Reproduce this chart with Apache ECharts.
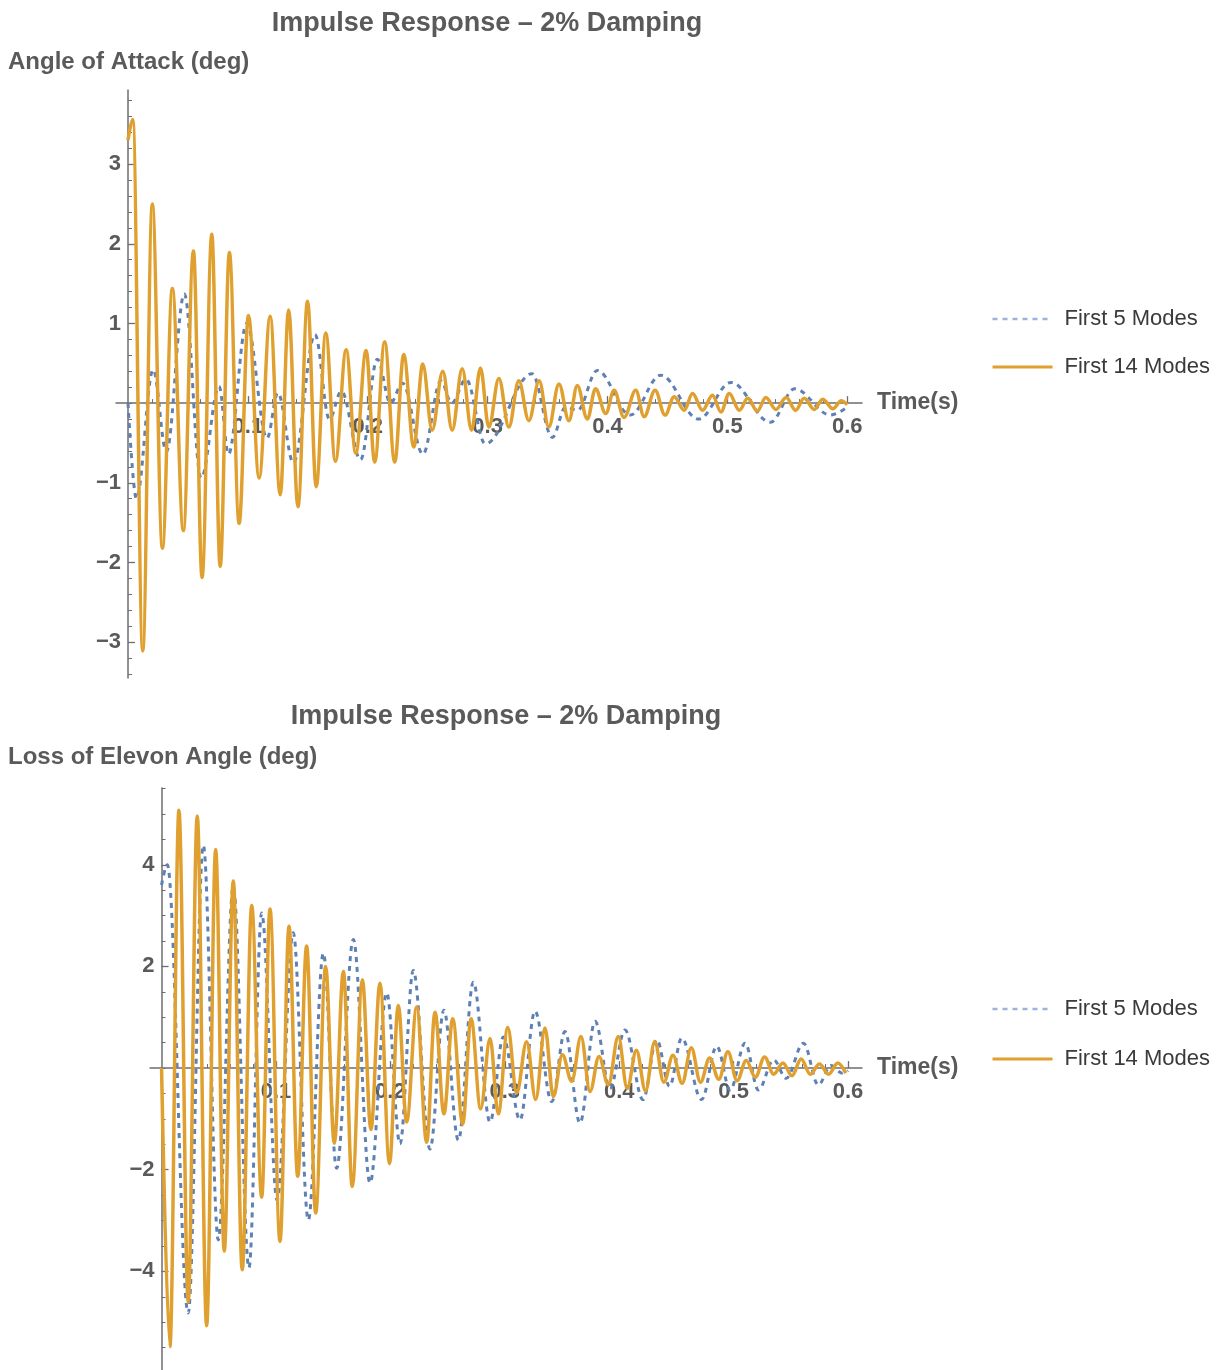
<!DOCTYPE html>
<html><head><meta charset="utf-8">
<script src="https://cdn.jsdelivr.net/npm/echarts@6/dist/echarts.min.js"></script>
<style>html,body{margin:0;padding:0;background:#fff}#c{width:1217px;height:1370px}</style>
</head><body><div id="c"></div>
<script>
// ---------- data ----------
const seriesNames = ['First 5 Modes', 'First 14 Modes'];
const chartTitles = ['Impulse Response \u2013 2% Damping', 'Impulse Response \u2013 2% Damping'];
const yAxisNames = ['Angle of Attack (deg)', 'Loss of Elevon Angle (deg)'];
const xAxisName = 'Time(s)';
const xMajorTicks = [0.1, 0.2, 0.3, 0.4, 0.5, 0.6];
const yMajorTicksTop = [-3, -2, -1, 1, 2, 3];
const yMajorTicksBottom = [-4, -2, 2, 4];

// Angle of attack, first 5 modes (time s, deg)
const aoa5 = [[0,0.0],[0.007,-1.2],[0.021,0.42],[0.032,-0.61],[0.047,1.37],[0.061,-0.94],[0.076,0.21],[0.0838,-0.64],
[0.099,1.0],[0.116,-0.44],[0.125,0.13],[0.138,-0.75],[0.156,0.86],[0.168,-0.2],[0.178,0.15],[0.194,-0.71],
[0.208,0.55],[0.219,0.0],[0.229,0.25],[0.246,-0.64],[0.261,0.28],[0.27,0.0],[0.282,0.30],[0.298,-0.51],
[0.337,0.37],[0.354,-0.43],[0.365,-0.05],[0.375,-0.09],[0.3915,0.41],[0.419,-0.15],[0.4444,0.35],[0.476,-0.2],
[0.503,0.26],[0.536,-0.24],[0.556,0.18],[0.586,-0.15],[0.6,-0.05]];

// Angle of attack, first 14 modes
const aoa14 = [[0,3.3],[0.004,3.56],[0.0123,-3.11],[0.0203,2.50],[0.0287,-1.82],[0.037,1.44],[0.0462,-1.60],[0.0546,1.91],
[0.0618,-2.19],[0.0699,2.12],[0.0769,-2.05],[0.0846,1.89],[0.0927,-1.51],[0.1005,1.10],[0.1094,-0.94],[0.1186,1.09],
[0.127,-1.15],[0.134,1.17],[0.1418,-1.30],[0.1498,1.28],[0.157,-1.05],[0.165,0.88],[0.173,-0.73],[0.182,0.67],
[0.19,-0.63],[0.1986,0.66],[0.2058,-0.74],[0.2141,0.77],[0.2225,-0.74],[0.23,0.61],[0.2384,-0.55],[0.2459,0.49],
[0.2537,-0.34],[0.2626,0.40],[0.2704,-0.34],[0.2788,0.43],[0.2866,-0.34],[0.294,0.44],[0.301,-0.30],[0.3094,0.31],
[0.3177,-0.30],[0.326,0.28],[0.3344,-0.22],[0.343,0.28],[0.351,-0.30],[0.3595,0.24],[0.3678,-0.22],[0.3748,0.22],
[0.3832,-0.20],[0.39,0.18],[0.3985,-0.13],[0.4055,0.16],[0.4138,-0.18],[0.4236,0.16],[0.4305,-0.17],[0.4397,0.16],
[0.448,-0.15],[0.4556,0.08],[0.464,-0.09],[0.4709,0.12],[0.4793,-0.09],[0.4876,0.10],[0.4946,-0.11],[0.5015,0.12],
[0.51,-0.09],[0.517,0.06],[0.525,-0.10],[0.532,0.07],[0.5405,-0.08],[0.549,0.07],[0.557,-0.09],[0.564,0.06],
[0.5725,-0.08],[0.5795,0.05],[0.588,-0.07],[0.595,0.03],[0.6,-0.02]];

// Loss of elevon angle, first 5 modes
const elev5 = [[0,3.6],[0.005,4.0],[0.0233,-4.82],[0.0365,4.38],[0.0496,-3.38],[0.0627,3.57],[0.0764,-3.93],[0.0875,3.05],
[0.101,-2.6],[0.1151,2.66],[0.1283,-2.99],[0.1414,2.26],[0.153,-1.97],[0.1676,2.53],[0.1822,-2.26],[0.1968,1.48],
[0.2084,-1.49],[0.22,1.92],[0.2346,-1.59],[0.2468,1.14],[0.2594,-1.42],[0.2725,1.69],[0.2871,-1.06],[0.2987,0.61],
[0.3133,-1.02],[0.3264,1.12],[0.341,-0.66],[0.3526,0.72],[0.3657,-1.08],[0.3789,0.92],[0.392,-0.4],[0.405,0.75],
[0.4208,-0.62],[0.4328,0.56],[0.444,-0.36],[0.4546,0.59],[0.472,-0.62],[0.4852,0.43],[0.497,-0.43],[0.51,0.49],
[0.5216,-0.43],[0.535,0.16],[0.546,-0.2],[0.561,0.49],[0.574,-0.33],[0.585,0.05],[0.595,-0.1],[0.6,-0.05]];

// Loss of elevon angle, first 14 modes
const elev14 = [[0,0],[0.0073,-5.48],[0.0152,5.07],[0.0233,-4.6],[0.0312,4.96],[0.0394,-5.07],[0.0473,4.30],[0.0548,-3.6],
[0.0627,3.68],[0.0705,-3.97],[0.0788,3.20],[0.0875,-2.54],[0.0948,3.13],[0.1035,-3.41],[0.1114,2.79],[0.119,-2.13],
[0.1268,2.40],[0.1347,-2.85],[0.1434,2.0],[0.151,-1.48],[0.1589,1.90],[0.1667,-2.33],[0.1755,1.74],[0.183,-1.21],
[0.1909,1.67],[0.1992,-1.88],[0.2069,1.23],[0.2142,-1.06],[0.2230,1.20],[0.2317,-1.46],[0.239,1.10],[0.2468,-0.9],
[0.2545,0.97],[0.2632,-1.1],[0.2705,0.97],[0.2789,-0.8],[0.2871,0.58],[0.2943,-0.9],[0.3026,0.80],[0.3104,-0.49],
[0.3191,0.52],[0.327,-0.62],[0.3351,0.79],[0.3424,-0.56],[0.3503,0.26],[0.3585,-0.26],[0.3666,0.62],[0.3745,-0.46],
[0.3823,0.23],[0.3905,-0.33],[0.3992,0.62],[0.407,-0.40],[0.415,0.35],[0.423,-0.45],[0.431,0.52],[0.439,-0.28],
[0.447,0.25],[0.455,-0.30],[0.463,0.40],[0.471,-0.28],[0.479,0.20],[0.487,-0.22],[0.495,0.32],[0.503,-0.25],
[0.511,0.15],[0.519,-0.18],[0.527,0.22],[0.535,-0.12],[0.543,0.10],[0.551,-0.15],[0.559,0.18],[0.567,-0.12],
[0.575,0.08],[0.583,-0.12],[0.591,0.10],[0.598,-0.10]];

// ---------- presentation ----------
function range(a, b, step) { const r = []; for (let i = 0; a + i * step <= b + 1e-9; i++) r.push(+(a + i * step).toFixed(4)); return r; }
const xMinorTicks = range(0.02, 0.6, 0.02);
const yMinorTicksTop = range(-3.4, 3.8, 0.2);
const yMinorTicksBottom = range(-5.5, 5.5, 0.5);

const BLUE = '#5E81B5', ORANGE = '#E0A030', AXIS = '#6e6e6e', TXT = '#5a5a5a';
const FONT = '"Liberation Sans", Arial, sans-serif';
const minus = v => (v < 0 ? '\u2212' + Math.abs(v) : String(v));

const grids = [
  { left: 116, top: 90, width: 746, height: 588 },
  { left: 150, top: 788, width: 712, height: 582 }
];
const xRanges = [[-0.01, 0.6123], [-0.0101, 0.6122]];
const yRanges = [[-3.45, 3.93], [-5.94, 5.51]];
const yMajor = [yMajorTicksTop, yMajorTicksBottom];
const yMinor = [yMinorTicksTop, yMinorTicksBottom];

const xAxes = [], yAxes = [];
for (let g = 0; g < 2; g++) {
  // place the labelled axes through the origin by offsetting them from the grid edge
  const xOff = -grids[g].height * (0 - yRanges[g][0]) / (yRanges[g][1] - yRanges[g][0]);
  const yOff = -grids[g].width * (0 - xRanges[g][0]) / (xRanges[g][1] - xRanges[g][0]);
  xAxes.push({
    type: 'value', gridIndex: g, position: 'bottom', offset: xOff, min: xRanges[g][0], max: xRanges[g][1],
    name: xAxisName, nameLocation: 'end', nameGap: 15,
    nameTextStyle: { fontFamily: FONT, fontSize: 23, fontWeight: 'bold', color: TXT },
    axisLine: { onZero: false, lineStyle: { color: AXIS, width: 1.5 } },
    axisTick: { show: true, inside: true, length: 7, customValues: xMajorTicks, lineStyle: { color: AXIS, width: 1.3 } },
    axisLabel: { customValues: xMajorTicks, margin: 13, fontFamily: FONT, fontSize: 22, fontWeight: 'bold', color: TXT,
      formatter: v => v.toFixed(1) },
    splitLine: { show: false }
  });
  xAxes.push({
    type: 'value', gridIndex: g, position: 'bottom', offset: xOff, min: xRanges[g][0], max: xRanges[g][1],
    axisLine: { show: false, onZero: false },
    axisTick: { show: true, inside: true, length: 4, customValues: xMinorTicks, lineStyle: { color: AXIS, width: 1 } },
    axisLabel: { show: false }, splitLine: { show: false }
  });
  yAxes.push({
    type: 'value', gridIndex: g, position: 'left', offset: yOff, min: yRanges[g][0], max: yRanges[g][1],
    axisLine: { show: true, onZero: false, lineStyle: { color: AXIS, width: 1.5 } },
    axisTick: { show: true, inside: true, length: 7, customValues: yMajor[g], lineStyle: { color: AXIS, width: 1.3 } },
    axisLabel: { customValues: yMajor[g], margin: 7, fontFamily: FONT, fontSize: 22, fontWeight: 'bold', color: TXT, formatter: minus },
    splitLine: { show: false }
  });
  yAxes.push({
    type: 'value', gridIndex: g, position: 'left', offset: yOff, min: yRanges[g][0], max: yRanges[g][1],
    axisLine: { show: false, onZero: false },
    axisTick: { show: true, inside: true, length: 4, customValues: yMinor[g], lineStyle: { color: AXIS, width: 1 } },
    axisLabel: { show: false }, splitLine: { show: false }
  });
}

const dataSets = [[aoa5, aoa14], [elev5, elev14]];
const series = [];
for (let g = 0; g < 2; g++) {
  series.push({
    name: seriesNames[0], type: 'line', xAxisIndex: 2 * g, yAxisIndex: 2 * g, data: dataSets[g][0],
    symbol: 'none', smooth: 0.36, smoothMonotone: 'x', clip: true, z: 2,
    lineStyle: { color: BLUE, width: 3, type: [5, 5] }, itemStyle: { color: BLUE }
  });
  series.push({
    name: seriesNames[1], type: 'line', xAxisIndex: 2 * g, yAxisIndex: 2 * g, data: dataSets[g][1],
    symbol: 'none', smooth: 0.36, smoothMonotone: 'x', clip: true, z: 3,
    lineStyle: { color: ORANGE, width: 3.5 }, itemStyle: { color: ORANGE }
  });
}

const legendSpecs = [{ top: 303, gap: 26 }, { top: 993, gap: 28 }];
const legends = legendSpecs.map(s => ({
  orient: 'vertical', left: 986, top: s.top, itemWidth: 60, itemHeight: 14, itemGap: s.gap,
  textStyle: { fontFamily: FONT, fontSize: 22, color: '#3a3a3a', padding: [0, 0, 0, 7] },
  data: [
    { name: seriesNames[0], itemStyle: { opacity: 0 }, lineStyle: { color: '#9DB2D6', type: [5, 5], width: 2.5 } },
    { name: seriesNames[1], itemStyle: { opacity: 0 }, lineStyle: { color: ORANGE, width: 3 } }
  ]
}));

const textEl = (text, x, y, size, align) => ({
  type: 'text', x: x, y: y, silent: true,
  style: { text: text, fontFamily: FONT, fontSize: size, fontWeight: 'bold', fill: TXT, align: align, verticalAlign: 'middle' }
});

const chart = echarts.init(document.getElementById('c'), null, { renderer: 'canvas' });
chart.setOption({
  animation: false,
  backgroundColor: '#fff',
  grid: grids,
  xAxis: xAxes,
  yAxis: yAxes,
  legend: legends,
  series: series,
  graphic: [
    textEl(chartTitles[0], 487, 24, 27, 'center'),
    textEl(chartTitles[1], 506, 717, 27, 'center'),
    textEl(yAxisNames[0], 8, 62, 24, 'left'),
    textEl(yAxisNames[1], 8, 757, 24, 'left')
  ]
});
</script></body></html>
